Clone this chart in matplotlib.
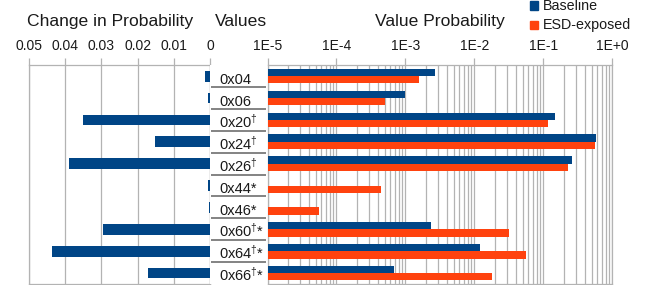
import numpy as np
import matplotlib
matplotlib.use("Agg")
import matplotlib.pyplot as plt
from matplotlib.ticker import LogLocator, FixedLocator, NullFormatter

plt.rcParams['font.family'] = ['Liberation Sans', 'DejaVu Sans']
plt.rcParams['mathtext.fontset'] = 'custom'
plt.rcParams['mathtext.rm'] = 'Liberation Sans'
plt.rcParams['mathtext.it'] = 'Liberation Sans'

# ---------------- data ----------------
labels = ["0x04", "0x06", "0x20$^{\\dagger}$", "0x24$^{\\dagger}$", "0x26$^{\\dagger}$",
          "0x44*", "0x46*", "0x60$^{\\dagger}$*", "0x64$^{\\dagger}$*", "0x66$^{\\dagger}$*"]
change = [0.0014, 0.0006, 0.0351, 0.0152, 0.0390, 0.0005, 0.0002, 0.0296, 0.0436, 0.0171]
baseline = [2.66e-3, 1.0e-3, 0.150, 0.573, 0.257, 0.0, 0.0, 2.33e-3, 0.0119, 6.8e-4]
esd = [1.56e-3, 5.0e-4, 0.115, 0.555, 0.225, 4.4e-4, 5.5e-5, 0.0314, 0.0553, 0.0178]
left_ticks = [0.05, 0.04, 0.03, 0.02, 0.01, 0.0]
left_ticklabels = ["0.05", "0.04", "0.03", "0.02", "0.01", "0"]
right_ticks = [1e-5, 1e-4, 1e-3, 1e-2, 1e-1, 1e0]
right_ticklabels = ["1E-5", "1E-4", "1E-3", "1E-2", "1E-1", "1E+0"]
series_names = ["Baseline", "ESD-exposed"]

BLUE = "#004586"
ORANGE = "#ff420e"
GRID = "#b3b3b3"
TXT = "#1a1a1a"

W, H = 651, 285
fig = plt.figure(figsize=(W / 100, H / 100), dpi=100)


def rect(x0, x1, y0, y1):
    return [x0 / W, 1 - y1 / H, (x1 - x0) / W, (y1 - y0) / H]


TOP, BOT = 65.2, 284.0
axL = fig.add_axes(rect(29, 210, TOP, BOT))
axM = fig.add_axes(rect(210, 267.5, TOP, BOT))
axR = fig.add_axes(rect(267.5, 612.3, TOP, BOT))

n = len(labels)
y = np.arange(n)

for ax in (axL, axM, axR):
    ax.set_ylim(n - 0.5, -0.5)
    ax.set_yticks([])

# ---------- left panel ----------
axL.set_xlim(0.05, 0.0)
axL.barh(y, change, height=0.49, color=BLUE, zorder=3)
axL.xaxis.tick_top()
axL.xaxis.set_major_locator(FixedLocator(left_ticks))
axL.set_xticklabels(left_ticklabels)
axL.grid(axis='x', color=GRID, lw=0.9, zorder=0)
axL.set_axisbelow(True)

# ---------- right panel ----------
XMIN = right_ticks[0]
axR.set_xscale('log')
axR.set_xlim(XMIN, right_ticks[-1])
bh = 0.335
bidx = [i for i, v in enumerate(baseline) if v > 0]
eidx = [i for i, v in enumerate(esd) if v > 0]
axR.barh(y[bidx] - bh / 2, [baseline[i] - XMIN for i in bidx], left=XMIN,
         height=bh, color=BLUE, zorder=3)
axR.barh(y[eidx] + bh / 2, [esd[i] - XMIN for i in eidx], left=XMIN,
         height=bh, color=ORANGE, zorder=3)
axR.xaxis.tick_top()
axR.xaxis.set_major_locator(FixedLocator(right_ticks))
axR.set_xticklabels(right_ticklabels)
axR.xaxis.set_minor_locator(LogLocator(base=10, subs=np.arange(2, 10)))
axR.xaxis.set_minor_formatter(NullFormatter())
axR.tick_params(axis='x', which='minor', length=0)
axR.grid(axis='x', which='both', color=GRID, lw=0.9, zorder=0)
axR.set_axisbelow(True)

for ax in (axL, axR):
    for s in ax.spines.values():
        s.set_color(GRID)
        s.set_linewidth(0.9)
    ax.tick_params(axis='x', which='major', length=5, width=0.9, color=GRID,
                   pad=3.5, labelsize=10, labelcolor=TXT)

# ---------- middle label column ----------
axM.set_xlim(0, 1)
axM.set_xticks([])
for s in axM.spines.values():
    s.set_visible(False)
for i in range(n - 1):
    axM.plot([0.02, 0.98], [i + 0.5, i + 0.5], color="#7a7a7a", lw=1.3,
             solid_capstyle='butt')
for i, lab in enumerate(labels):
    axM.text(0.165, i + 0.36, lab, ha='left', va='baseline', fontsize=10.5,
             color=TXT)

# ---------- titles ----------
fig.text(110 / W, 1 - 26 / H, "Change in Probability", ha='center',
         va='baseline', fontsize=12.6, color=TXT)
fig.text(241 / W, 1 - 26 / H, "Values", ha='center', va='baseline',
         fontsize=12.6, color=TXT)
fig.text(440 / W, 1 - 26 / H, "Value Probability", ha='center',
         va='baseline', fontsize=12.6, color=TXT)

# ---------- legend ----------
for k, (name, col) in enumerate(zip(series_names, [BLUE, ORANGE])):
    cy = 5.6 + 19.6 * k
    fig.patches.append(plt.Rectangle((530 / W, 1 - (cy + 4.2) / H), 8.3 / W,
                                     8.4 / H, transform=fig.transFigure,
                                     color=col, figure=fig))
    fig.text(542.7 / W, 1 - cy / H, name, ha='left', va='center',
             fontsize=10.3, color=TXT)

fig.savefig("out.png", dpi=100)
